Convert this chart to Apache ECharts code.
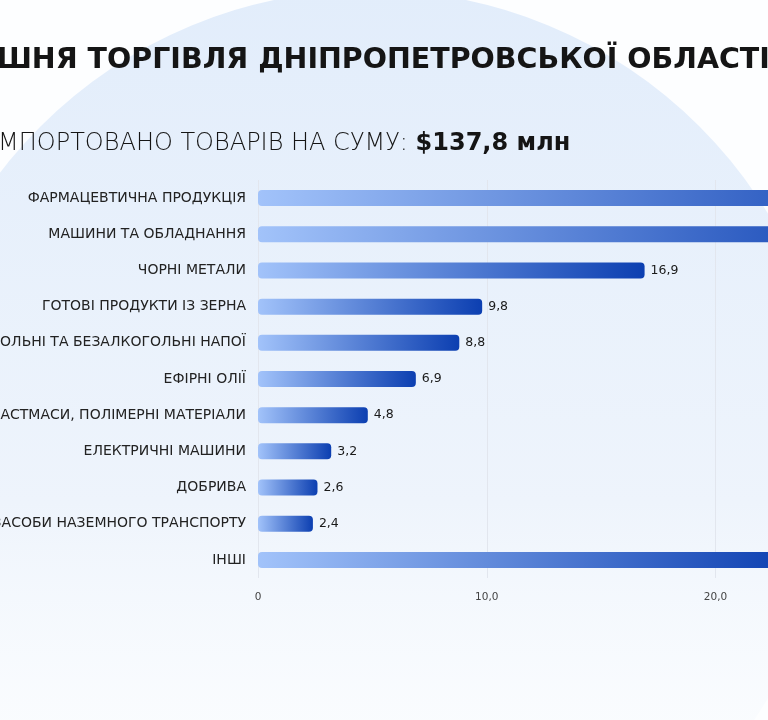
<!DOCTYPE html>
<html>
<head>
<meta charset="utf-8">
<script src="https://cdn.jsdelivr.net/npm/echarts@6/dist/echarts.min.js"></script>
<style>
  html, body { margin: 0; padding: 0; width: 768px; height: 720px; overflow: hidden; background: #fdfeff; }
  /* the reference is a crop of a wider slide, so the chart sits shifted left */
  #main { position: absolute; left: -120px; top: 0; width: 1320px; height: 720px; }
</style>
</head>
<body>
<div id="main"></div>
<script>
var categories = [
  'ФАРМАЦЕВТИЧНА ПРОДУКЦІЯ',
  'МАШИНИ ТА ОБЛАДНАННЯ',
  'ЧОРНІ МЕТАЛИ',
  'ГОТОВІ ПРОДУКТИ ІЗ ЗЕРНА',
  'АЛКОГОЛЬНІ ТА БЕЗАЛКОГОЛЬНІ НАПОЇ',
  'ЕФІРНІ ОЛІЇ',
  'ПЛАСТМАСИ, ПОЛІМЕРНІ МАТЕРІАЛИ',
  'ЕЛЕКТРИЧНІ МАШИНИ',
  'ДОБРИВА',
  'ЗАСОБИ НАЗЕМНОГО ТРАНСПОРТУ',
  'ІНШІ'
]
// $ млн; the first two and the last bar run past the crop, their values are estimates
var values = [30.6, 28.3, 16.9, 9.8, 8.8, 6.9, 4.8, 3.2, 2.6, 2.4, 23.5]
var axisTicks = [0, 10, 20, 30, 40]
var titleText = 'ЗОВНІШНЯ ТОРГІВЛЯ ДНІПРОПЕТРОВСЬКОЇ ОБЛАСТІ'
var subtitleText = 'ІМПОРТОВАНО ТОВАРІВ НА СУМУ: '
var totalText = '$137,8 млн'

var font = '"DejaVu Sans", sans-serif'
var chart = echarts.init(document.getElementById('main'))

function comma(v) {
  return v === 0 ? '0' : v.toFixed(1).replace('.', ',')
}

var option = {
  backgroundColor: '#fdfeff',
  textStyle: { fontFamily: font },
  graphic: [{
    type: 'circle',
    z: -10,
    silent: true,
    shape: { cx: 490, cy: 456, r: 466 },
    style: {
      fill: {
        type: 'linear', x: 0, y: 0, x2: 0, y2: 1,
        colorStops: [
          { offset: 0, color: '#e2edfb' },
          { offset: 0.55, color: '#eef4fc' },
          { offset: 1, color: 'rgba(253,254,255,0)' }
        ]
      }
    }
  }],
  title: [{
    text: titleText,
    left: 11,
    top: 41,
    textStyle: { fontFamily: font, fontSize: 28.5, fontWeight: 'bold', color: '#151515' }
  }, {
    text: '{a|' + subtitleText + '}{b|' + totalText + '}',
    left: 106,
    top: 127,
    textStyle: {
      rich: {
        a: { fontFamily: font, fontSize: 24, fontWeight: 200, color: '#151515' },
        b: { fontFamily: font, fontSize: 24, fontWeight: 'bold', color: '#151515' }
      }
    }
  }],
  grid: {
    left: 378,
    right: 27,
    top: 180,
    bottom: 142,
    containLabel: false
  },
  xAxis: {
    type: 'value',
    min: axisTicks[0],
    max: axisTicks[axisTicks.length - 1],
    interval: 10,
    axisLine: { show: false },
    axisTick: { show: false },
    splitLine: { show: true, lineStyle: { color: '#e2e6ee', width: 1 } },
    axisLabel: {
      margin: 14,
      fontSize: 10.5,
      color: '#444',
      fontFamily: font,
      formatter: comma
    }
  },
  yAxis: {
    type: 'category',
    inverse: true,
    data: categories,
    axisLine: { show: false },
    axisTick: { show: false },
    axisLabel: {
      margin: 12,
      fontSize: 14,
      color: '#222',
      fontFamily: font
    }
  },
  series: [{
    type: 'bar',
    data: values,
    barWidth: 16,
    itemStyle: {
      borderRadius: 4,
      color: {
        type: 'linear', x: 0, y: 0, x2: 1, y2: 0,
        colorStops: [
          { offset: 0, color: '#a2c3fa' },
          { offset: 1, color: '#0c3fb1' }
        ]
      }
    },
    label: {
      show: true,
      position: 'right',
      distance: 6,
      fontSize: 12.5,
      color: '#1a1a1a',
      fontFamily: font,
      formatter: function (p) { return comma(p.value) }
    }
  }]
}

chart.setOption(option)

window.onresize = function () {
  chart.resize()
}
</script>
</body>
</html>
